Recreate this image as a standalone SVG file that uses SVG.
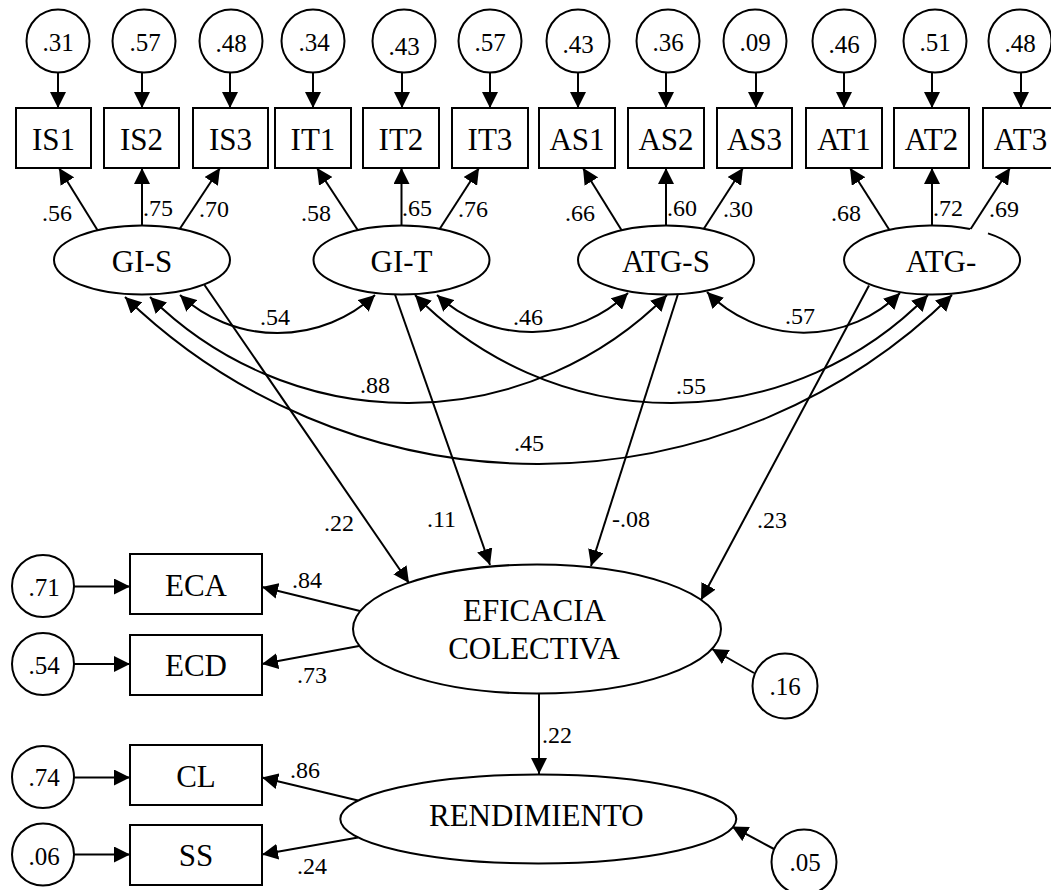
<svg xmlns="http://www.w3.org/2000/svg" width="1051" height="890" viewBox="0 0 1051 890">
  <style>
    text { font-family: "Liberation Serif", "Times New Roman", serif; fill: #000; }
    .shape { fill: #fff; stroke: #000; stroke-width: 2; }
    .lbl { font-size: 31px; text-anchor: middle; }
    .err { font-size: 25px; text-anchor: middle; }
    .coef { font-size: 24px; }
    .arrow { fill: none; stroke: #000; stroke-width: 2; marker-end: url(#head); }
    .both { fill: none; stroke: #000; stroke-width: 2; marker-start: url(#head); marker-end: url(#head); }
  </style>
  <defs>
    <marker id="head" viewBox="0 0 16 16" refX="16" refY="8" markerWidth="16" markerHeight="16" markerUnits="userSpaceOnUse" orient="auto-start-reverse">
      <path d="M0,0 L16,8 L0,16 z" fill="#000"/>
    </marker>
  </defs>

  <rect width="1051" height="890" fill="#fff"/>

  <!-- connectors -->
  <g id="connectors">
    <!-- error terms to indicators (top row) -->
    <path class="arrow" d="M58,72.5 V108"/>
    <path class="arrow" d="M142,72.5 V108"/>
    <path class="arrow" d="M230,72.5 V108"/>
    <path class="arrow" d="M313,72.5 V108"/>
    <path class="arrow" d="M402,72.5 V108"/>
    <path class="arrow" d="M490,72.5 V108"/>
    <path class="arrow" d="M578,72.5 V108"/>
    <path class="arrow" d="M666,72.5 V108"/>
    <path class="arrow" d="M756,72.5 V108"/>
    <path class="arrow" d="M844,72.5 V108"/>
    <path class="arrow" d="M932,72.5 V108"/>
    <path class="arrow" d="M1021,72.5 V108"/>

    <!-- loadings -->
    <path class="arrow" d="M98,231 L59,168"/>
    <path class="arrow" d="M142,225.5 V168"/>
    <path class="arrow" d="M179,230 L220,168"/>
    <path class="arrow" d="M359,232 L317,168"/>
    <path class="arrow" d="M401.5,225.5 V168"/>
    <path class="arrow" d="M439,230 L479,168"/>
    <path class="arrow" d="M623,232.5 L583,168"/>
    <path class="arrow" d="M666,225.5 V168"/>
    <path class="arrow" d="M703,230 L743,168"/>
    <path class="arrow" d="M891,232.5 L850,168"/>
    <path class="arrow" d="M932,225.5 V168"/>
    <path class="arrow" d="M970,230 L1010,168"/>

    <!-- covariances between factors -->
    <path class="both" d="M180,295 A144,144 0 0 0 375,295"/>
    <path class="both" d="M437,295 A139,139 0 0 0 628,293"/>
    <path class="both" d="M707,292 A136,136 0 0 0 900,293"/>
    <path class="both" d="M150,297 A365.7,365.7 0 0 0 667,295"/>
    <path class="both" d="M415,295 A358.6,358.6 0 0 0 928,295"/>
    <path class="both" d="M125,297 A593,593 0 0 0 952,295"/>

    <!-- structural paths -->
    <path class="arrow" d="M204.5,285 L409,583"/>
    <path class="arrow" d="M395,294.5 L490,565"/>
    <path class="arrow" d="M678,294 L591,566"/>
    <path class="arrow" d="M869,285.5 L701,600"/>
    <path class="arrow" d="M539,693.5 V774"/>

    <!-- collective efficacy indicators -->
    <path class="arrow" d="M360,611 L262,587"/>
    <path class="arrow" d="M359,646 L262,664"/>
    <path class="arrow" d="M73,586.5 H130"/>
    <path class="arrow" d="M73,664 H130"/>
    <path class="arrow" d="M754,673 L712,649"/>

    <!-- performance indicators -->
    <path class="arrow" d="M358,800.5 L262,777.5"/>
    <path class="arrow" d="M358,837.5 L262,854.5"/>
    <path class="arrow" d="M73,777.5 H130"/>
    <path class="arrow" d="M73,854.5 H130"/>
    <path class="arrow" d="M774,849 L732,826.5"/>
  </g>

  <!-- coefficients -->
  <g id="coefficients" class="coef">
    <text x="42" y="221">.56</text>
    <text x="143" y="215.5">.75</text>
    <text x="199" y="216.5">.70</text>
    <text x="301" y="221">.58</text>
    <text x="402" y="215.5">.65</text>
    <text x="458" y="216.5">.76</text>
    <text x="565" y="221">.66</text>
    <text x="667" y="215.5">.60</text>
    <text x="723" y="216.5">.30</text>
    <text x="831" y="221">.68</text>
    <text x="933" y="215.5">.72</text>
    <text x="989" y="216.5">.69</text>

    <text x="260" y="325">.54</text>
    <text x="513" y="325">.46</text>
    <text x="785" y="324">.57</text>
    <text x="360" y="393">.88</text>
    <text x="676" y="394">.55</text>
    <text x="514" y="451">.45</text>

    <text x="324" y="530.5">.22</text>
    <text x="427" y="527">.11</text>
    <text x="612" y="526.5">-.08</text>
    <text x="757" y="527.5">.23</text>

    <text x="292" y="587.5">.84</text>
    <text x="297" y="683">.73</text>
    <text x="542" y="742.5">.22</text>
    <text x="290" y="777.5">.86</text>
    <text x="297" y="874">.24</text>
  </g>

  <!-- error terms, top row -->
  <g id="e_is1"><circle class="shape" cx="58" cy="41" r="31.5"/><text class="err" x="58" y="51">.31</text></g>
  <g id="e_is2"><circle class="shape" cx="144" cy="41" r="31.5"/><text class="err" x="145" y="51">.57</text></g>
  <g id="e_is3"><circle class="shape" cx="231" cy="41" r="31.5"/><text class="err" x="231" y="51.5" font-size="26">.48</text></g>
  <g id="e_it1"><circle class="shape" cx="313" cy="41" r="31.5"/><text class="err" x="314" y="51">.34</text></g>
  <g id="e_it2"><circle class="shape" cx="404" cy="41" r="31.5"/><text class="err" x="404" y="55" font-size="32">.43</text></g>
  <g id="e_it3"><circle class="shape" cx="490" cy="41" r="31.5"/><text class="err" x="490" y="51">.57</text></g>
  <g id="e_as1"><circle class="shape" cx="578" cy="41" r="31.5"/><text class="err" x="578" y="52.5" font-size="27">.43</text></g>
  <g id="e_as2"><circle class="shape" cx="668" cy="41" r="31.5"/><text class="err" x="668" y="51">.36</text></g>
  <g id="e_as3"><circle class="shape" cx="755" cy="41" r="31.5"/><text class="err" x="755" y="51">.09</text></g>
  <g id="e_at1"><circle class="shape" cx="844" cy="41" r="31.5"/><text class="err" x="844" y="52.5" font-size="27">.46</text></g>
  <g id="e_at2"><circle class="shape" cx="935" cy="41" r="31.5"/><text class="err" x="935" y="50.5">.51</text></g>
  <g id="e_at3"><circle class="shape" cx="1020" cy="41" r="31.5"/><text class="err" x="1020" y="51.5" font-size="26">.48</text></g>

  <!-- observed indicators, top row -->
  <g id="IS1"><rect class="shape" x="16" y="108" width="75" height="60"/><text class="lbl" x="53.5" y="150">IS1</text></g>
  <g id="IS2"><rect class="shape" x="104" y="108" width="75" height="60"/><text class="lbl" x="141.5" y="150">IS2</text></g>
  <g id="IS3"><rect class="shape" x="193" y="108" width="75" height="60"/><text class="lbl" x="230.5" y="150">IS3</text></g>
  <g id="IT1"><rect class="shape" x="275" y="108" width="76" height="60"/><text class="lbl" x="313" y="150">IT1</text></g>
  <g id="IT2"><rect class="shape" x="363" y="108" width="76" height="60"/><text class="lbl" x="401" y="150">IT2</text></g>
  <g id="IT3"><rect class="shape" x="452" y="108" width="76" height="60"/><text class="lbl" x="490" y="150">IT3</text></g>
  <g id="AS1"><rect class="shape" x="539" y="108" width="76" height="60"/><text class="lbl" x="577" y="150">AS1</text></g>
  <g id="AS2"><rect class="shape" x="628" y="108" width="76" height="60"/><text class="lbl" x="666" y="150">AS2</text></g>
  <g id="AS3"><rect class="shape" x="717" y="108" width="75" height="60"/><text class="lbl" x="754.5" y="150">AS3</text></g>
  <g id="AT1"><rect class="shape" x="806" y="108" width="76" height="60"/><text class="lbl" x="844" y="150">AT1</text></g>
  <g id="AT2"><rect class="shape" x="894" y="108" width="75" height="60"/><text class="lbl" x="931.5" y="150">AT2</text></g>
  <g id="AT3"><rect class="shape" x="983" y="108" width="75" height="60"/><text class="lbl" x="1020.5" y="150">AT3</text></g>

  <!-- latent factors -->
  <g id="GI-S"><ellipse class="shape" cx="142" cy="260" rx="88" ry="34.5"/><text class="lbl" x="142" y="272">GI-S</text></g>
  <g id="GI-T"><ellipse class="shape" cx="401.5" cy="260" rx="88" ry="34.5"/><text class="lbl" x="401.5" y="272">GI-T</text></g>
  <g id="ATG-S"><ellipse class="shape" cx="666" cy="260" rx="88" ry="34.5"/><text class="lbl" x="666" y="272">ATG-S</text></g>
  <g id="ATG-T"><path class="shape" d="M988,233.4 A88,34.5 0 1 1 970,228.9"/><text class="lbl" x="941" y="272">ATG-</text></g>

  <!-- collective efficacy -->
  <g id="EFICACIA"><ellipse class="shape" cx="537" cy="629" rx="184" ry="64.5"/>
    <text class="lbl" x="534.5" y="621">EFICACIA</text>
    <text class="lbl" x="534" y="659">COLECTIVA</text></g>
  <g id="d_ef"><circle class="shape" cx="785" cy="686" r="32.5"/><text class="err" x="785" y="695">.16</text></g>
  <g id="ECA"><rect class="shape" x="130" y="554" width="132" height="60"/><text class="lbl" x="196" y="596">ECA</text></g>
  <g id="ECD"><rect class="shape" x="130" y="635" width="132" height="60"/><text class="lbl" x="196" y="676">ECD</text></g>
  <g id="e_eca"><circle class="shape" cx="43" cy="586" r="31"/><text class="err" x="44" y="596">.71</text></g>
  <g id="e_ecd"><circle class="shape" cx="43" cy="664" r="31"/><text class="err" x="44" y="673.5">.54</text></g>

  <!-- performance -->
  <g id="RENDIMIENTO"><ellipse class="shape" cx="538.3" cy="819" rx="198" ry="44.5"/>
    <text class="lbl" x="536.3" y="825.5">RENDIMIENTO</text></g>
  <g id="d_rend"><circle class="shape" cx="804" cy="862" r="32.5"/><text class="err" x="805" y="870.5">.05</text></g>
  <g id="CL"><rect class="shape" x="130" y="745" width="132" height="60"/><text class="lbl" x="196" y="787">CL</text></g>
  <g id="SS"><rect class="shape" x="130" y="825" width="132" height="60"/><text class="lbl" x="196" y="866">SS</text></g>
  <g id="e_cl"><circle class="shape" cx="43" cy="777" r="31"/><text class="err" x="44" y="786">.74</text></g>
  <g id="e_ss"><circle class="shape" cx="43" cy="854.5" r="31"/><text class="err" x="44" y="864.5">.06</text></g>
</svg>
